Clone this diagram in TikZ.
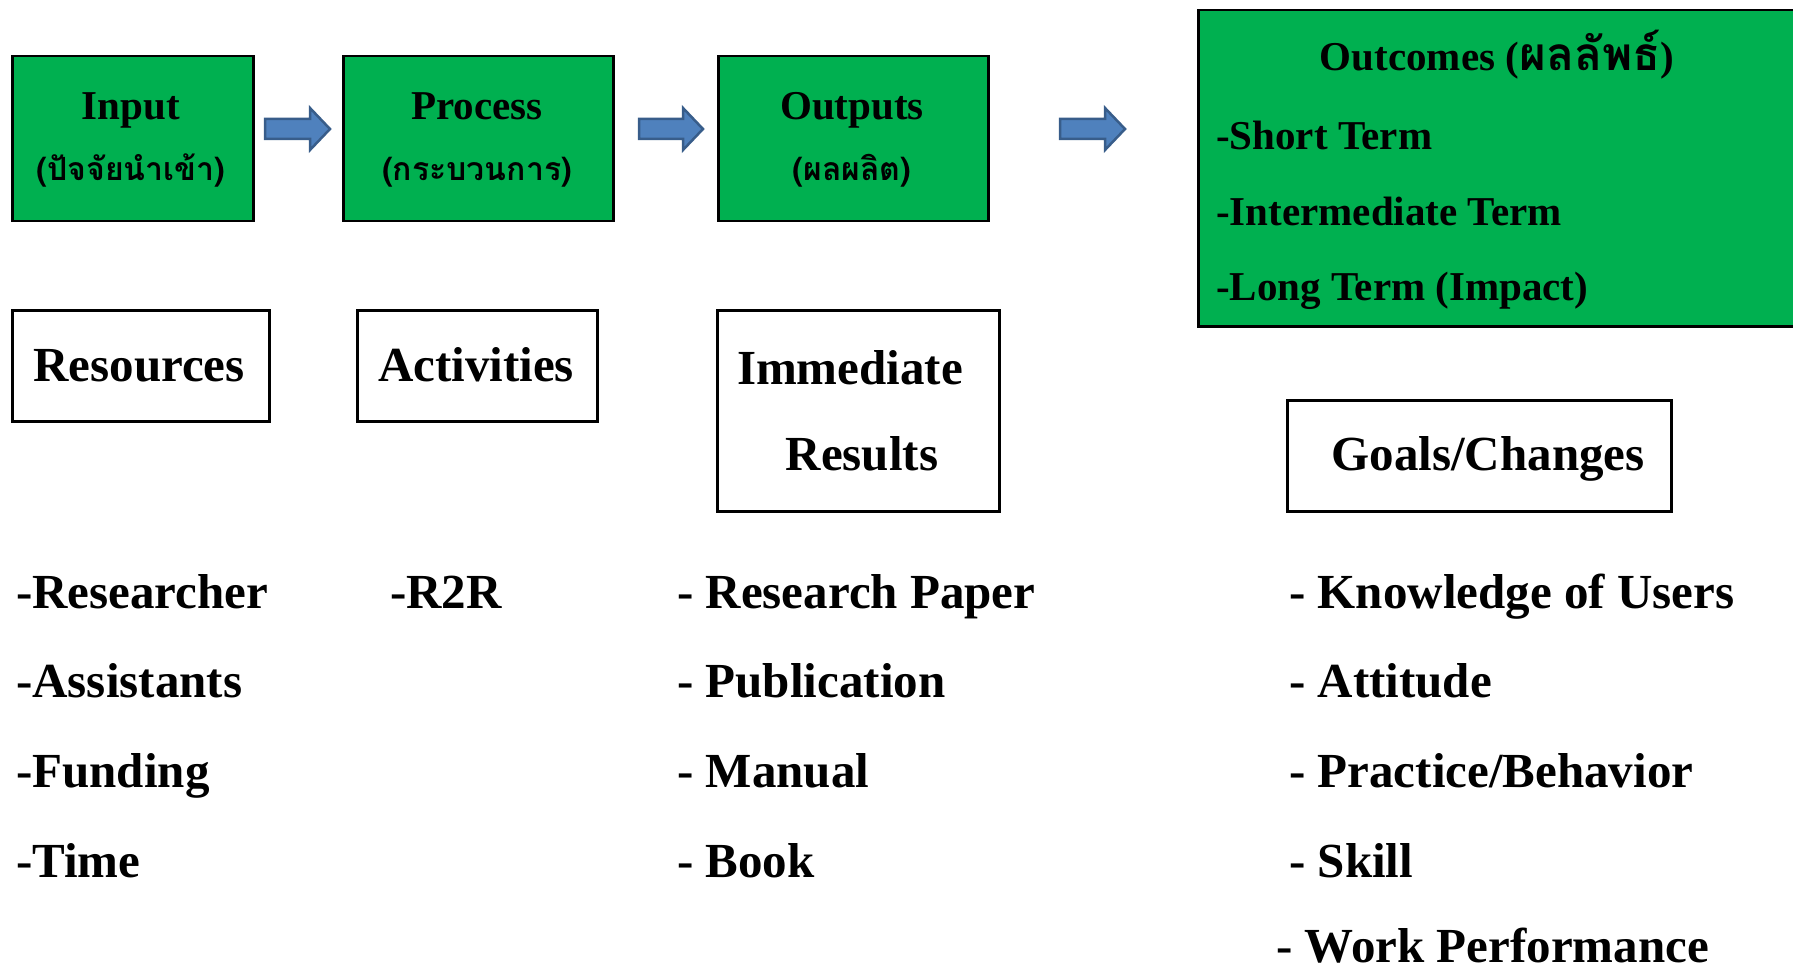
\documentclass[tikz,border=0pt]{standalone}
\usepackage{fontspec}
\setmainfont{Liberation Serif}
\newfontfamily\thaifont[Script=Thai]{Loma}
\usetikzlibrary{calc}
\definecolor{boxgreen}{HTML}{00B050}
\definecolor{arrfill}{HTML}{4F81BD}
\definecolor{arrline}{HTML}{385D8A}
\newcommand\blockarr[2]{%
  \filldraw[blockarrow] ($(#1)+(0,-10)$) -- ($(#2)+(-20,-10)$) -- ($(#2)+(-20,-21)$) -- (#2)
    -- ($(#2)+(-20,21)$) -- ($(#2)+(-20,10)$) -- ($(#1)+(0,10)$) -- cycle;}
\begin{document}
\begin{tikzpicture}[x=1pt,y=-1pt,
  gbox/.style={draw=black,line width=2.5pt,fill=boxgreen,anchor=north west,inner sep=0},
  wbox/.style={draw=black,line width=2.5pt,anchor=north west,inner sep=0},
  gtxt/.style={font=\fontsize{41}{48}\selectfont\bfseries,inner sep=0,anchor=base},
  thtxt/.style={font=\fontsize{32}{38}\selectfont\thaifont\bfseries,inner sep=0,anchor=base},
  btxt/.style={font=\fontsize{49}{58}\selectfont\bfseries,inner sep=0,anchor=base},
  ltxt/.style={font=\fontsize{49}{58}\selectfont\bfseries,inner sep=0,anchor=base west},
  otxt/.style={font=\fontsize{41}{48}\selectfont\bfseries,inner sep=0,anchor=base west},
  blockarrow/.style={fill=arrfill,draw=arrline,line width=2.5pt,line join=miter}]
\useasboundingbox (0,0) rectangle (1793,968);
\clip (0,0) rectangle (1793,968);
% top green boxes
\node[gbox,minimum width=241pt,minimum height=165pt] (input) at (11,55) {};
\node[gbox,minimum width=270pt,minimum height=165pt] (process) at (342,55) {};
\node[gbox,minimum width=270pt,minimum height=165pt] (outputs) at (717,55) {};
\node[gbox,minimum width=640pt,minimum height=316pt] (outcomes) at (1197,9) {};
\node[gtxt] (inputT) at (131,120) {Input};
\node[thtxt] (inputTh) at (131,181) {(ปัจจัยนำเข้า)};
\node[gtxt] (processT) at (477,120) {Process};
\node[thtxt] (processTh) at (477,181) {(กระบวนการ)};
\node[gtxt] (outputsT) at (852,120) {Outputs};
\node[thtxt] (outputsTh) at (852,181) {(ผลผลิต)};
\node[gtxt] (outcomesT) at (1497,71) {Outcomes ({\thaifont\fontsize{46}{52}\selectfont ผลลัพธ์})};
\node[otxt] (oc1) at (1216,150) {-Short Term};
\node[otxt] (oc2) at (1216,226) {-Intermediate Term};
\node[otxt] (oc3) at (1216,301) {-Long Term (Impact)};
% arrows
\coordinate (a1s) at (265,129); \coordinate (a1e) at (330,129);
\coordinate (a2s) at (639,129); \coordinate (a2e) at (703,129);
\coordinate (a3s) at (1060,129); \coordinate (a3e) at (1125,129);
\blockarr{a1s}{a1e}
\blockarr{a2s}{a2e}
\blockarr{a3s}{a3e}
% white boxes
\node[wbox,minimum width=257pt,minimum height=111pt] (res) at (11,309) {};
\node[wbox,minimum width=240pt,minimum height=111pt] (act) at (356,309) {};
\node[wbox,minimum width=282pt,minimum height=201pt] (imm) at (716,309) {};
\node[wbox,minimum width=384pt,minimum height=111pt] (goal) at (1286,399) {};
\node[btxt] (resT) at (139,381) {Resources};
\node[btxt] (actT) at (476,381) {Activities};
\node[btxt] (immT1) at (850,384) {Immediate};
\node[btxt] (immT2) at (862,470) {Results};
\node[btxt] (goalT) at (1488,470) {Goals/Changes};
% lists
\node[ltxt] (l1) at (16,608) {-Researcher};
\node[ltxt] (l2) at (16,697) {-Assistants};
\node[ltxt] (l3) at (16,787) {-Funding};
\node[ltxt] (l4) at (16,877) {-Time};
\node[ltxt] (r1) at (390,608) {-R2R};
\node[ltxt] (p1) at (677,608) {- Research Paper};
\node[ltxt] (p2) at (677,697) {- Publication};
\node[ltxt] (p3) at (677,787) {- Manual};
\node[ltxt] (p4) at (677,877) {- Book};
\node[ltxt] (g1) at (1289,608) {- Knowledge of Users};
\node[ltxt] (g2) at (1289,697) {- Attitude};
\node[ltxt] (g3) at (1289,787) {- Practice/Behavior};
\node[ltxt] (g4) at (1289,877) {- Skill};
\node[ltxt] (g5) at (1276,962) {- Work Performance};
\end{tikzpicture}
\end{document}
